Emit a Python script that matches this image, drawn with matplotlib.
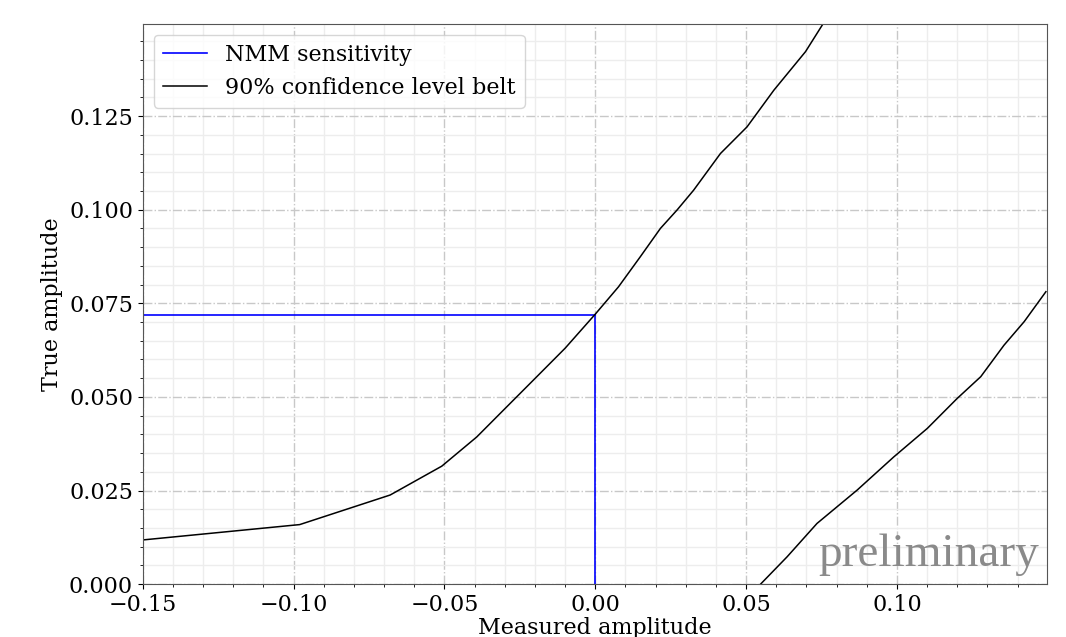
import matplotlib
matplotlib.use('Agg')
import matplotlib.pyplot as plt
from matplotlib.ticker import MultipleLocator

plt.rcParams['font.family'] = 'DejaVu Serif'
plt.rcParams['font.size'] = 16

# upper edge of the 90% CL belt
belt_up_x = [-0.15, -0.098, -0.068, -0.0509, -0.0393, -0.0304, -0.0205, -0.010,
             0.0, 0.0077, 0.0149, 0.0216, 0.0271, 0.0326, 0.0415, 0.0503,
             0.0592, 0.0697, 0.0758]
belt_up_y = [0.0118, 0.0159, 0.0238, 0.0315, 0.0393, 0.0465, 0.0545, 0.0630,
             0.0721, 0.0794, 0.0874, 0.0950, 0.0999, 0.1052, 0.1150, 0.1221,
             0.1319, 0.1422, 0.1500]

# lower edge of the belt
belt_lo_x = [0.0548, 0.0636, 0.0735, 0.0868, 0.0990, 0.1101, 0.1200, 0.1278,
             0.1355, 0.1422, 0.1494]
belt_lo_y = [0.0, 0.0073, 0.0162, 0.0251, 0.0340, 0.0416, 0.0496, 0.0554,
             0.0638, 0.0701, 0.0781]

sens = 0.072
xmin, xmax = -0.15, 0.1497
ymin, ymax = 0.0, 0.1497

fig = plt.figure(figsize=(10.66, 6.37), dpi=100)
ax = fig.add_axes([0.134, 0.083, 0.848, 0.880])

ax.plot([xmin, 0.0], [sens, sens], color='blue', lw=1.2, label='NMM sensitivity')
ax.plot([0.0, 0.0], [ymin, sens], color='blue', lw=1.2)
ax.plot(belt_up_x, belt_up_y, color='black', lw=1.1, label='90% confidence level belt')
ax.plot(belt_lo_x, belt_lo_y, color='black', lw=1.1)

ax.set_xlim(xmin, xmax)
ax.set_ylim(ymin, ymax)
ax.xaxis.set_major_locator(MultipleLocator(0.05))
ax.xaxis.set_minor_locator(MultipleLocator(0.01))
ax.yaxis.set_major_locator(MultipleLocator(0.025))
ax.yaxis.set_minor_locator(MultipleLocator(0.005))
ax.grid(which='major', color='#c8c8c8', linestyle='-.', lw=1.0)
ax.grid(which='minor', color='#ededed', linestyle='-', lw=1.0)
ax.set_axisbelow(True)
for s in ax.spines.values():
    s.set_color('#555555')

ax.set_xlabel('Measured amplitude', labelpad=1)
ax.set_ylabel('True amplitude')

ax.text(0.991, 0.015, 'preliminary', transform=ax.transAxes, ha='right', va='bottom',
        fontsize=34, family='Liberation Serif', color='#8a8a8a')

ax.legend(loc='upper left', fontsize=16)

fig.savefig('out.png', dpi=100)
